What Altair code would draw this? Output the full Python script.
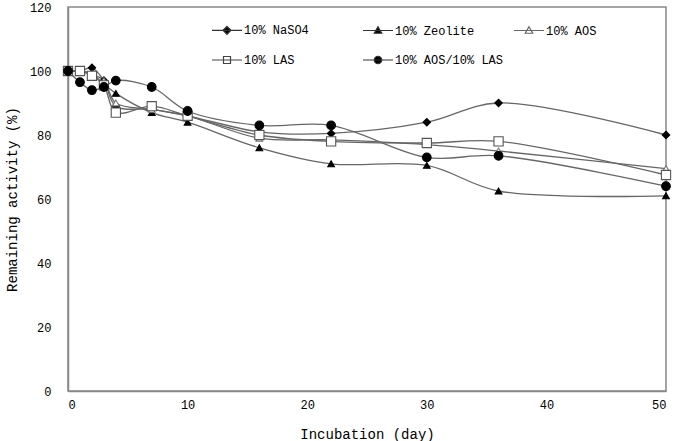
import altair as alt
import pandas as pd

# Incubation days sampled
days = [0, 1, 2, 3, 4, 7, 10, 16, 22, 30, 36, 50]

# Remaining activity (%) for each formulation
naso4 = [100, 100, 101, 97, 89, 88, 86, 81, 80.5, 84, 90, 80]
zeolite = [100, 100, 99, 96, 93, 87, 84, 76, 71, 70.5, 62.5, 61]
aos = [100, 100, 99, 97, 90, 88, 86, 79, 78.5, 77, 75, 69.5]
las = [100, 100, 98.5, 95.5, 87, 89, 86, 80, 78, 77.5, 78, 67.5]
aos_las = [100, 96.5, 94, 95, 97, 95, 87.5, 83, 83, 73, 73.5, 64]

series_names = ["10% NaSO4", "10% Zeolite", "10% AOS", "10% LAS", "10% AOS/10% LAS"]
series_values = [naso4, zeolite, aos, las, aos_las]

rows = []
for name, vals in zip(series_names, series_values):
    for d, v in zip(days, vals):
        rows.append({"day": d, "activity": v, "series": name})
df = pd.DataFrame(rows)

# marker styling per series
marker_shapes = ["diamond", "triangle-up", "triangle-up", "square", "circle"]
marker_fills = ["black", "black", "white", "white", "black"]
marker_strokes = ["black", "black", "#777777", "#555555", "black"]
marker_sizes = [55, 45, 45, 85, 75]
legend_strokes = ["#333333", "#333333", "#666666", "#444444", "#333333"]

# legend keys: a short line with the marker on it
legend_paths = [
    "M-3,0H3M0,-0.8L0.8,0L0,0.8L-0.8,0Z",
    "M-3,0H3M0,-0.75L0.75,0.55L-0.75,0.55Z",
    "M-3,0H3M0,-0.75L0.75,0.55L-0.75,0.55Z",
    "M-3,0H3M-0.7,-0.7H0.7V0.7H-0.7Z",
    "M-3,0H3M-0.75,0A0.75,0.75,0,1,0,0.75,0A0.75,0.75,0,1,0,-0.75,0Z",
]

x_enc = alt.X(
    "day:Q",
    scale=alt.Scale(domain=[0, 50], nice=False),
    axis=alt.Axis(values=[0, 10, 20, 30, 40, 50], title="Incubation (day)",
                  titlePadding=17, labelPadding=8),
)
y_enc = alt.Y(
    "activity:Q",
    scale=alt.Scale(domain=[0, 120], nice=False),
    axis=alt.Axis(values=[0, 20, 40, 60, 80, 100, 120], title="Remaining activity (%)",
                  titlePadding=10, labelPadding=17),
)

base = alt.Chart(df)

lines = base.mark_line(interpolate="catmull-rom", color="#666666", strokeWidth=1.3).encode(
    x=x_enc, y=y_enc, detail="series:N"
)

# one marker layer per formulation, styled with constants
point_layers = []
for name, shp, fil, stk, sz in zip(series_names, marker_shapes, marker_fills, marker_strokes, marker_sizes):
    point_layers.append(
        base.transform_filter(alt.datum.series == name)
        .mark_point(shape=shp, fill=fil, stroke=stk, size=sz, strokeWidth=1.1,
                    filled=True, opacity=1)
        .encode(x=x_enc, y=y_enc)
    )

legend_def = alt.Legend(
    title=None,
    orient="none",
    direction="horizontal",
    legendX=153,
    legendY=17,
    columns=3,
    gridAlign="all",
    columnPadding=7,
    rowPadding=16,
    symbolSize=100,
    symbolStrokeWidth=1.2,
    symbolOpacity=1,
    labelOffset=11,
    labelFont="Liberation Mono",
    labelFontSize=12,
    labelColor="black",
    padding=0,
)

# empty layer that only carries the legend
legend_layer = base.transform_filter("datum.day < 0").mark_point(
    filled=True, strokeWidth=1.2, opacity=1
).encode(
    x=x_enc,
    y=y_enc,
    shape=alt.Shape("series:N", scale=alt.Scale(domain=series_names, range=legend_paths), legend=legend_def),
    fill=alt.Fill("series:N", scale=alt.Scale(domain=series_names, range=marker_fills), legend=legend_def),
    stroke=alt.Stroke("series:N", scale=alt.Scale(domain=series_names, range=legend_strokes), legend=legend_def),
)

chart = (
    alt.layer(lines, *point_layers, legend_layer)
    .properties(
        width=598,
        height=384,
        autosize=alt.AutoSizeParams(type="none"),
        padding={"left": 68, "top": 7, "right": 16, "bottom": 50},
        background="white",
    )
    .configure_view(stroke="#888888", strokeWidth=1.5)
    .configure_axis(
        grid=False,
        ticks=False,
        domainColor="#888888",
        domainWidth=1.5,
        labelFont="Liberation Mono",
        labelFontSize=12,
        labelColor="black",
        titleFont="Liberation Mono",
        titleFontSize=14,
        titleFontWeight="normal",
        titleColor="black",
    )
)

chart.save("out.html", embed_options={"renderer": "svg", "actions": False})
